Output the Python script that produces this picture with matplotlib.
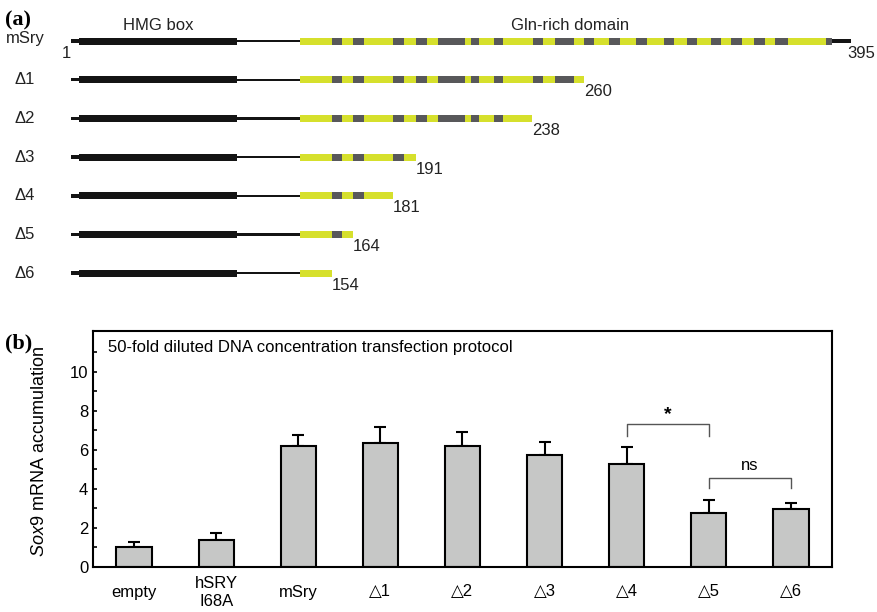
import matplotlib
matplotlib.use("Agg")
import matplotlib.pyplot as plt
from matplotlib.patches import Rectangle

plt.rcParams["font.family"] = ["Liberation Sans", "DejaVu Sans"]
plt.rcParams["mathtext.fontset"] = "custom"
plt.rcParams["mathtext.rm"] = "Liberation Sans"
plt.rcParams["mathtext.it"] = "Liberation Sans:italic"

# ---- panel (a): deletion constructs (schematic units, not to scale) ----
constructs = ["mSry", "Δ1", "Δ2", "Δ3", "Δ4", "Δ5", "Δ6"]
end_residue = [395, 260, 238, 191, 181, 164, 154]
drawn_end = [832, 584, 532, 416, 393, 353, 332]
n_start, hmg_start, hmg_end, gln_start, c_tail = 71, 79, 237, 300, 851
gln_blocks = [(332, 342), (353, 364), (393, 404), (416, 427), (438, 465),
              (471, 479), (494, 503), (533, 543), (555, 574), (584, 594),
              (609, 620), (636, 647), (664, 674), (687, 697), (711, 721),
              (731, 742), (754, 765), (775, 788), (826, 832)]

# ---- panel (b): Sox9 mRNA accumulation ----
groups = ["empty", "hSRY\nI68A", "mSry", "△1", "△2", "△3", "△4", "△5", "△6"]
means = [1.02, 1.37, 6.22, 6.34, 6.22, 5.74, 5.28, 2.79, 2.97]
sems = [0.28, 0.35, 0.55, 0.82, 0.68, 0.69, 0.89, 0.64, 0.30]
brackets = [(6, 7, 7.32, 6.74, "*"), (7, 8, 4.58, 4.05, "ns")]

W, H = 878, 612
fig = plt.figure(figsize=(W / 100, H / 100), dpi=100)

# panel (a) drawn in a pixel-like schematic frame
ax_a = fig.add_axes([0, 1 - 305 / H, 1, 305 / H])
ax_a.set_xlim(0, W)
ax_a.set_ylim(305, 0)
ax_a.axis("off")

yellow, grey, black = "#d6e02c", "#58585a", "#141414"
txt = "#222222"
thick, thin = 7, 2.2
for i, (name, end, pos) in enumerate(zip(constructs, end_residue, drawn_end)):
    y = 41 + i * 38.7
    ax_a.add_patch(Rectangle((n_start, y - 1.8), hmg_start - n_start, 3.6,
                             color=black, lw=0))
    ax_a.add_patch(Rectangle((hmg_start, y - thick / 2), hmg_end - hmg_start,
                             thick, color=black, lw=0))
    ax_a.add_patch(Rectangle((hmg_end, y - thin / 2), gln_start - hmg_end,
                             thin, color=black, lw=0))
    ax_a.add_patch(Rectangle((gln_start, y - thick / 2), pos - gln_start,
                             thick, color=yellow, lw=0))
    for b0, b1 in gln_blocks:
        if b0 < pos:
            ax_a.add_patch(Rectangle((b0, y - thick / 2), min(b1, pos) - b0,
                                     thick, color=grey, lw=0))
    full = end == max(end_residue)
    if full:
        ax_a.add_patch(Rectangle((pos, y - 1.6), c_tail - pos, 3.2,
                                 color=black, lw=0))
    lx = c_tail - 4 if full else pos
    ax_a.text(lx, y + 12, str(end), fontsize=12, ha="left", va="center",
              color=txt)
    ax_a.text(25, y - (3 if i == 0 else 0), name, fontsize=12, ha="center",
              va="center", color=txt)
ax_a.text(66, 53, "1", fontsize=12, ha="center", va="center", color=txt)
ax_a.text(158, 25, "HMG box", fontsize=12, ha="center", va="center", color=txt)
ax_a.text(570, 25, "Gln-rich domain", fontsize=12, ha="center", va="center",
          color=txt)
fig.text(5 / W, 1 - 20 / H, "(a)", fontsize=16, fontweight="bold",
         family="Liberation Serif", ha="left", va="center")

# panel (b)
left, right, top, bottom = 93, 832, 331, 567
ax = fig.add_axes([left / W, 1 - bottom / H, (right - left) / W,
                   (bottom - top) / H])
x = list(range(len(groups)))
ax.bar(x, means, width=0.43, color="#c6c7c6", edgecolor="black", lw=1.5,
       zorder=2)
ax.errorbar(x, means, yerr=[[0] * len(sems), sems], fmt="none", ecolor="black",
            elinewidth=1.5, capsize=4.5, capthick=1.5, zorder=1)
for i0, i1, ytop, yleg, lab in brackets:
    ax.plot([i0, i0, i1, i1], [yleg, ytop, ytop, yleg], color="#555555",
            lw=1.0)
    ax.text((i0 + i1) / 2, ytop + (0.5 if lab == "*" else 0.6), lab,
            ha="center", va="center", fontsize=14 if lab == "*" else 12,
            fontweight="bold" if lab == "*" else "normal")
ax.set_xlim(-0.5, len(groups) - 0.5)
ax.set_ylim(0, 12.1)
ax.set_yticks(range(0, 11, 2))
ax.set_yticks(range(1, 12, 2), minor=True)
ax.tick_params(axis="y", which="both", direction="in", length=3, width=1.2,
               labelsize=12)
ax.tick_params(axis="x", length=0, pad=18, labelsize=12)
ax.set_xticks(x)
ax.set_xticklabels(groups, va="center", linespacing=1.25)
for s in ax.spines.values():
    s.set_linewidth(1.5)
ax.set_ylabel(r"$\mathit{Sox9}$ mRNA accumulation", fontsize=13)
ax.yaxis.set_label_coords(-0.061, 0.49)
ax.text(0.02, 0.93, "50-fold diluted DNA concentration transfection protocol",
        transform=ax.transAxes, fontsize=12, ha="left", va="center")
fig.text(5 / W, 1 - 343 / H, "(b)", fontsize=16, fontweight="bold",
         family="Liberation Serif", ha="left", va="center")

fig.savefig("out.png", dpi=100)
